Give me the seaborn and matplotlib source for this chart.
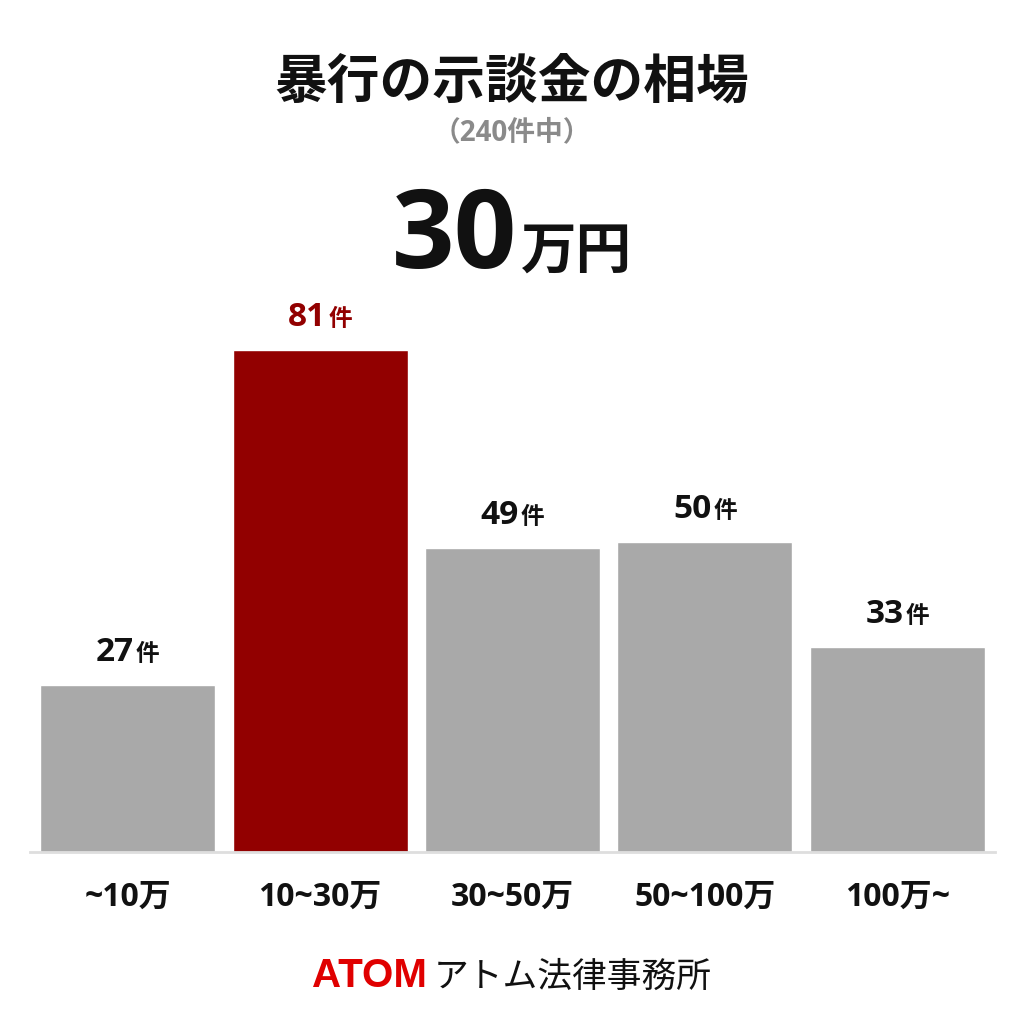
import seaborn as sns
import pandas as pd
import matplotlib.pyplot as plt

# chart data
categories = ['~10万', '10~30万', '30~50万', '50~100万', '100万~']
counts = [27, 81, 49, 50, 33]
highlight = '10~30万'

title = '暴行の示談金の相場'
subtitle = '（240件中）'
headline_num = '30'
headline_unit = '万円'
unit = '件'
brand = 'ATOM'
brand_rest = 'アトム法律事務所'

sns.set_theme(style='white')
CJK = ['Noto Sans CJK JP', 'DejaVu Sans']
LATIN = ['Open Sans', 'Noto Sans CJK JP', 'DejaVu Sans']
plt.rcParams['font.family'] = CJK

RED = '#920000'
GRAY = '#a9a9a9'

df = pd.DataFrame({'cat': categories, 'n': counts})
palette = {c: (RED if c == highlight else GRAY) for c in categories}

fig = plt.figure(figsize=(10.24, 10.24), dpi=100)
ax = fig.add_axes([0.029, 0.168, 0.943, 0.54])
sns.barplot(data=df, x='cat', y='n', hue='cat', palette=palette, width=0.91,
            saturation=1, legend=False, ax=ax)
ax.set_xlim(-0.51, 4.51)
ax.set_ylim(0, 89.2)
ax.set_xlabel('')
ax.set_ylabel('')
ax.set_yticks([])
sns.despine(ax=ax, left=True, top=True, right=True)
ax.spines['bottom'].set_color('#dedede')
ax.spines['bottom'].set_linewidth(2)
ax.tick_params(axis='x', length=0, pad=21)
for lbl in ax.get_xticklabels():
    lbl.set_fontsize(23)
    lbl.set_fontweight('bold')
    lbl.set_color('#111111')
    lbl.set_family(LATIN)

fig.canvas.draw()
renderer = fig.canvas.get_renderer()


def pair_text(x, y, s1, s2, size1, size2, color1, color2, w1='bold', w2='bold',
              fam1=LATIN, fam2=CJK, gap=2):
    """two texts side by side, centred together on x, sharing a baseline"""
    t1 = fig.text(0, 0, s1, fontsize=size1, color=color1, fontweight=w1,
                  family=fam1, ha='left', va='baseline')
    t2 = fig.text(0, 0, s2, fontsize=size2, color=color2, fontweight=w2,
                  family=fam2, ha='left', va='baseline')
    b1 = t1.get_window_extent(renderer)
    b2 = t2.get_window_extent(renderer)
    total = b1.width + gap + b2.width
    px, py = x * fig.bbox.width, y * fig.bbox.height
    left = px - total / 2
    inv = fig.transFigure.inverted()
    t1.set_position(inv.transform((left, py)))
    t2.set_position(inv.transform((left + b1.width + gap, py)))


for i, (c, n) in enumerate(zip(categories, counts)):
    col = RED if c == highlight else '#111111'
    pos = ax.transData.transform((i, n))
    pair_text(pos[0] / fig.bbox.width, (pos[1] + 24) / fig.bbox.height,
              str(n), unit, 24, 17, col, col, gap=2)

fig.text(0.5, 0.92, title, ha='center', va='center', fontsize=38,
         fontweight='bold', color='#111111')
fig.text(0.5, 0.87, subtitle, ha='center', va='center', fontsize=20,
         fontweight='bold', color='#8a8a8a', family=LATIN)
pair_text(0.5, 0.738, headline_num, headline_unit, 79, 40, '#111111', '#111111', gap=4)
pair_text(0.5, 0.036, brand, brand_rest, 29, 25, '#e00000', '#111111',
          w1='heavy', w2='normal', fam1=['Liberation Sans'], gap=7)

fig.savefig('out.png', dpi=100, facecolor='white')
